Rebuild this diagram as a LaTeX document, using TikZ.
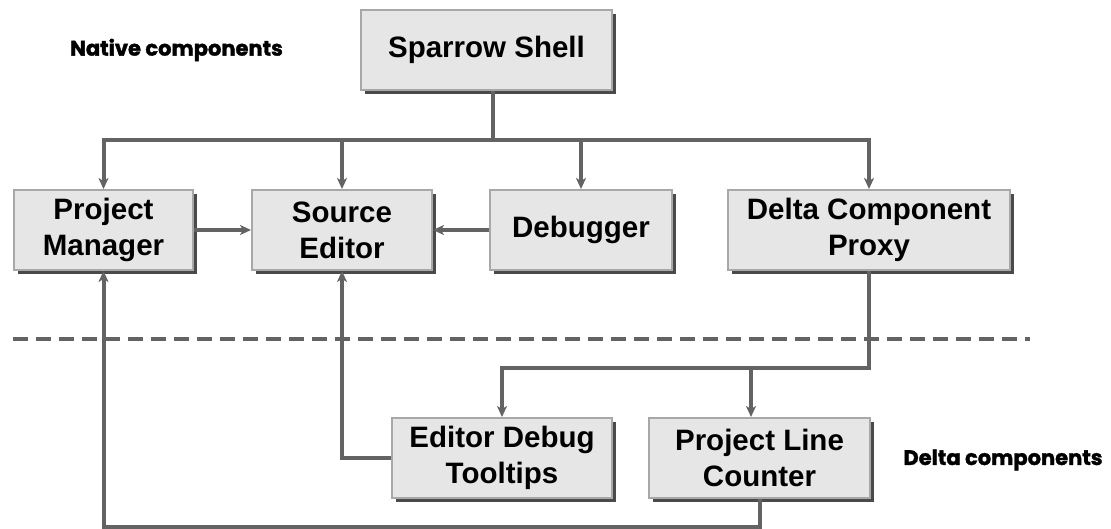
\documentclass[tikz,border=0pt]{standalone}
\usepackage{fontspec}
\setmainfont{Liberation Sans}
\newfontfamily\labelfont[BoldFeatures={FakeBold=1.6}]{Poppins}
\usetikzlibrary{arrows.meta,shadows}
\definecolor{boxfill}{HTML}{E6E6E6}
\definecolor{boxline}{HTML}{A8A8A8}
\definecolor{shadowgray}{HTML}{4A4A4A}
\definecolor{wiregray}{HTML}{636363}
\begin{document}
\begin{tikzpicture}[x=1pt,y=-1pt,
  comp/.style={draw=boxline, line width=2pt, fill=boxfill, minimum height=80pt,
    inner sep=0pt, align=center, font=\fontsize{29.5}{36}\selectfont\bfseries,
    drop shadow={shadow xshift=4pt, shadow yshift=-4pt, fill=shadowgray, opacity=1}},
  wire/.style={draw=wiregray, line width=4pt},
  link/.style={wire, -{Stealth[length=11pt,width=10pt,inset=3pt]}},
  note/.style={font=\labelfont\fontsize{21}{25}\selectfont\bfseries, inner sep=0pt}
]
\useasboundingbox (0,0) rectangle (1111,529);

% components
\node[comp, minimum width=251pt] (ss)  at (486.5,50) {Sparrow Shell};
\node[comp, minimum width=179pt] (pm)  at (103.5,230) {Project\\Manager};
\node[comp, minimum width=180pt] (se)  at (342,230) {Source\\Editor};
\node[comp, minimum width=182pt] (db)  at (581,230) {Debugger};
\node[comp, minimum width=282pt] (dcp) at (869,230) {Delta Component\\Proxy};
\node[comp, minimum width=220pt] (edt) at (502,458) {Editor Debug\\Tooltips};
\node[comp, minimum width=221pt] (plc) at (759.5,458) {Project Line\\Counter};

% section labels
\node[note] (native) at (176.5,50) {Native components};
\node[note] (delta)  at (1003,460) {Delta components};

% boundary between native and delta parts
\draw[draw=wiregray, line width=4pt, dash pattern=on 15pt off 8pt] (13,339) -- (1030,339);

% shell fan-out
\coordinate (trunk) at (493,140);
\draw[wire] ([xshift=6.5pt]ss.south) -- (trunk);
\draw[link] (trunk) -| (pm.north);
\draw[link] (trunk) -| (se.north);
\draw[link] (trunk) -| (db.north);
\draw[link] (trunk) -| (dcp.north);

% native links
\draw[link] (pm.east) -- (se.west);
\draw[link] (db.west) -- (se.east);

% proxy fan-out to delta components
\coordinate (fork) at (869,368);
\draw[link] (dcp.south) |- (edt.north |- fork) -- (edt.north);
\draw[link] (fork) -| ([xshift=-8.5pt]plc.north);

% delta components back to native ones
\draw[link] (edt.west) -| (se.south);
\coordinate (low) at (760,527);
\draw[link] ([xshift=0.5pt]plc.south) |- (pm.south |- low) -- (pm.south);
\end{tikzpicture}
\end{document}
